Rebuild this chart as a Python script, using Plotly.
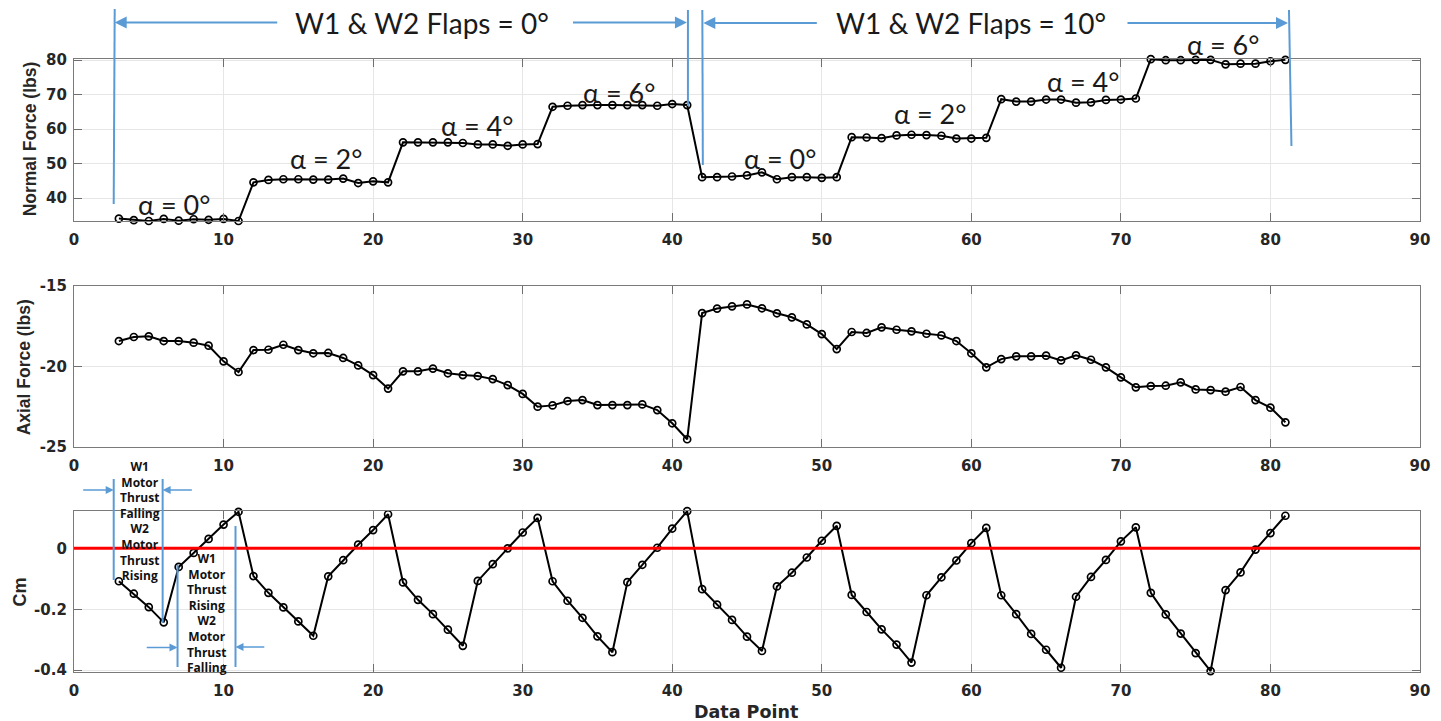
import plotly.graph_objects as go

# ---------------- data ----------------
data_point = list(range(3, 82))

normal_force = [34.1, 33.65, 33.4, 34.0, 33.5, 33.9, 33.75, 34.0, 33.4,
                44.6, 45.3, 45.5, 45.5, 45.4, 45.4, 45.7, 44.4, 44.9, 44.6,
                56.2, 56.2, 56.2, 56.2, 56.0, 55.6, 55.6, 55.2, 55.6, 55.7,
                66.5, 66.8, 67.0, 67.0, 67.0, 67.0, 67.0, 66.8, 67.3, 67.0,
                46.1, 46.1, 46.3, 46.6, 47.5, 45.5, 46.1, 46.1, 45.9, 46.1,
                57.7, 57.6, 57.4, 58.2, 58.4, 58.3, 58.1, 57.3, 57.3, 57.5,
                68.7, 68.0, 68.0, 68.6, 68.6, 67.7, 67.8, 68.5, 68.6, 68.9,
                80.3, 80.0, 80.0, 80.1, 80.1, 78.8, 79.0, 79.0, 79.7, 80.1]

axial_force = [-18.43, -18.18, -18.14, -18.43, -18.43, -18.53, -18.72, -19.69, -20.35,
               -18.99, -18.97, -18.66, -18.99, -19.19, -19.17, -19.48, -19.94, -20.54, -21.38,
               -20.31, -20.31, -20.14, -20.43, -20.54, -20.60, -20.79, -21.16, -21.71, -22.50,
               -22.42, -22.15, -22.09, -22.40, -22.40, -22.40, -22.36, -22.71, -23.53, -24.52,
               -16.70, -16.42, -16.28, -16.16, -16.40, -16.71, -16.96, -17.40, -18.00, -18.93,
               -17.87, -17.93, -17.58, -17.73, -17.83, -17.98, -18.08, -18.43, -19.19, -20.06,
               -19.55, -19.38, -19.38, -19.34, -19.63, -19.32, -19.59, -20.06, -20.68, -21.30,
               -21.22, -21.20, -20.99, -21.43, -21.47, -21.57, -21.28, -22.09, -22.56, -23.47]

cm = [-0.108, -0.149, -0.193, -0.243, -0.061, -0.015, 0.031, 0.078, 0.120,
      -0.091, -0.146, -0.194, -0.240, -0.287, -0.092, -0.039, 0.012, 0.060, 0.112,
      -0.112, -0.169, -0.216, -0.267, -0.320, -0.107, -0.052, 0.000, 0.052, 0.100,
      -0.108, -0.172, -0.228, -0.289, -0.341, -0.111, -0.054, 0.002, 0.065, 0.122,
      -0.134, -0.185, -0.235, -0.290, -0.337, -0.125, -0.080, -0.030, 0.025, 0.074,
      -0.153, -0.209, -0.266, -0.316, -0.375, -0.154, -0.095, -0.040, 0.017, 0.067,
      -0.154, -0.216, -0.281, -0.333, -0.392, -0.159, -0.094, -0.038, 0.023, 0.069,
      -0.146, -0.217, -0.280, -0.344, -0.403, -0.137, -0.079, -0.004, 0.050, 0.107]

x_ticks = [0, 10, 20, 30, 40, 50, 60, 70, 80, 90]
x_tick_text = ["0", "10", "20", "30", "40", "50", "60", "70", "80", "90"]
nf_ticks = [40, 50, 60, 70, 80]
nf_tick_text = ["40", "50", "60", "70", "80"]
af_ticks = [-25, -20, -15]
af_tick_text = ["-25", "-20", "-15"]
cm_ticks = [-0.4, -0.2, 0]
cm_tick_text = ["-0.4", "-0.2", "0"]

alpha_labels = ["α = 0°", "α = 2°", "α = 4°", "α = 6°", "α = 0°", "α = 2°", "α = 4°", "α = 6°"]
flap_labels = ["W1 & W2 Flaps = 0°", "W1 & W2 Flaps = 10°"]
block1_lines = ["W1", "Motor", "Thrust", "Falling", "W2", "Motor", "Thrust", "Rising"]
block2_lines = ["W1", "Motor", "Thrust", "Rising", "W2", "Motor", "Thrust", "Falling"]

# ---------------- layout geometry ----------------
W, H = 1441, 721
ML, MR, MT, MB = 74, 11, 59, 49
PW = W - ML - MR
PH = H - MT - MB


def px(x):
    return (x - ML) / PW


def py(y):
    return (H - MB - y) / PH


BLUE = "#5B9BD5"
DARK = "#262626"
AXFAM = "DejaVu Sans"
TITLEFAM = "Liberation Sans, Arial"
TICKFONT = dict(family=AXFAM, size=15, color=DARK, weight="bold")

fig = go.Figure()

line_style = dict(color="black", width=2)
marker_style = dict(symbol="circle-open", size=7, color="black", line=dict(width=1.7, color="black"))

fig.add_trace(go.Scatter(x=data_point, y=normal_force, mode="lines+markers", line=line_style,
                         marker=marker_style, xaxis="x", yaxis="y", cliponaxis=False, showlegend=False))
fig.add_trace(go.Scatter(x=data_point, y=axial_force, mode="lines+markers", line=line_style,
                         marker=marker_style, xaxis="x2", yaxis="y2", cliponaxis=False, showlegend=False))
fig.add_trace(go.Scatter(x=data_point, y=cm, mode="lines+markers", line=line_style,
                         marker=marker_style, xaxis="x3", yaxis="y3", cliponaxis=False, showlegend=False))

dom_top = [py(221), 1.0]
dom_mid = [py(447), py(285.7)]
dom_bot = [0.0, py(511)]

common_x = dict(range=[0, 90], tickmode="array", tickvals=x_ticks, ticktext=x_tick_text,
                showgrid=True, gridcolor="#e6e6e6", gridwidth=1, zeroline=False,
                showline=True, linecolor="#7a7a7a", linewidth=1.2, mirror="ticks",
                ticks="inside", ticklen=8, tickcolor="#6f6f6f", tickwidth=1.2,
                tickfont=TICKFONT, ticklabelstandoff=5)
common_y = dict(showgrid=True, gridcolor="#e6e6e6", gridwidth=1, zeroline=False,
                showline=True, linecolor="#7a7a7a", linewidth=1.2, mirror="ticks",
                ticks="inside", ticklen=8, tickcolor="#6f6f6f", tickwidth=1.2,
                tickfont=TICKFONT, tickmode="array", ticklabelstandoff=3)

fig.update_layout(
    width=W, height=H,
    margin=dict(l=ML, r=MR, t=MT, b=MB),
    paper_bgcolor="white", plot_bgcolor="white",
    xaxis=dict(common_x, domain=[0, 1], anchor="y"),
    xaxis2=dict(common_x, domain=[0, 1], anchor="y2"),
    xaxis3=dict(common_x, domain=[0, 1], anchor="y3"),
    yaxis=dict(common_y, domain=dom_top, anchor="x", range=[33.4, 80.35],
               tickvals=nf_ticks, ticktext=nf_tick_text),
    yaxis2=dict(common_y, domain=dom_mid, anchor="x2", range=[-25, -15],
                tickvals=af_ticks, ticktext=af_tick_text),
    yaxis3=dict(common_y, domain=dom_bot, anchor="x3", range=[-0.406, 0.1226],
                tickvals=cm_ticks, ticktext=cm_tick_text),
)

shapes = []
annotations = []

# red zero line in Cm panel
shapes.append(dict(type="line", xref="x3 domain", yref="y3", x0=0, x1=1, y0=0, y1=0,
                   line=dict(color="#ff0000", width=3), layer="above"))


def vline(x0, y0, x1, y1, w=2):
    shapes.append(dict(type="line", xref="paper", yref="paper", x0=px(x0), y0=py(y0),
                       x1=px(x1), y1=py(y1), line=dict(color=BLUE, width=w), layer="above"))


def arrow(tip_x, tip_y, tail_x, size=1.2, w=2):
    annotations.append(dict(xref="paper", yref="paper", x=px(tip_x), y=py(tip_y), text="",
                            showarrow=True, ax=tail_x - tip_x, ay=0, arrowhead=2,
                            arrowsize=size, arrowwidth=w, arrowcolor=BLUE, standoff=0))


def text(s, x, y, size, color="#1a1a1a", weight="normal", family="Lato", angle=0):
    annotations.append(dict(xref="paper", yref="paper", x=px(x), y=py(y), text=s,
                            showarrow=False, xanchor="center", yanchor="middle",
                            textangle=angle,
                            font=dict(family=family, size=size, color=color, weight=weight)))


# Flap range markers (top)
vline(115, 9, 114, 204)
vline(692.5, 10, 692.5, 106)
vline(707, 10, 707.5, 165)
vline(1298, 10, 1300.5, 146)
arrow(115, 22.5, 279)
arrow(691.5, 22.5, 576)
arrow(708, 23, 823)
arrow(1297, 23, 1135)
text(flap_labels[0], 424.5, 23, 28)
text(flap_labels[1], 977.5, 23, 28)

# alpha labels
alpha_pos = [(175, 204), (328, 158), (480, 125), (623, 92),
             (785, 158), (936, 114), (1090, 81), (1232, 45)]
for lab, (ax_, ay_) in zip(alpha_labels, alpha_pos):
    text(lab, ax_, ay_, 27)

# Cm panel thrust annotations
vline(114, 479, 114, 580)
vline(163.3, 479, 163.3, 623)
arrow(114, 490, 82, size=1.0, w=1.6)
arrow(163.3, 490, 194, size=1.0, w=1.6)
vline(178.3, 565, 178.3, 667)
vline(236.7, 526, 236.7, 667)
arrow(178.3, 647.5, 146, size=1.0, w=1.6)
arrow(236.7, 647, 267, size=1.0, w=1.6)

BFAM = "Open Sans"
text("<br>".join(block1_lines), 140.7, 521, 12, color="#111111", weight="bold", family=BFAM)
text("<br>".join(block2_lines), 208.3, 612.5, 12, color="#111111", weight="bold", family=BFAM)

# axis titles
text("Normal Force (lbs)", 30, 139, 17.5, color=DARK, weight="bold", family=TITLEFAM, angle=-90)
text("Axial Force (lbs)", 24, 367, 17.5, color=DARK, weight="bold", family=TITLEFAM, angle=-90)
text("Cm", 20, 592, 18, color=DARK, weight="bold", family=TITLEFAM, angle=-90)
text("Data Point", 751, 712, 17.5, color=DARK, weight="bold", family=AXFAM)

fig.update_layout(shapes=shapes, annotations=annotations)

fig.write_html("out.html")
